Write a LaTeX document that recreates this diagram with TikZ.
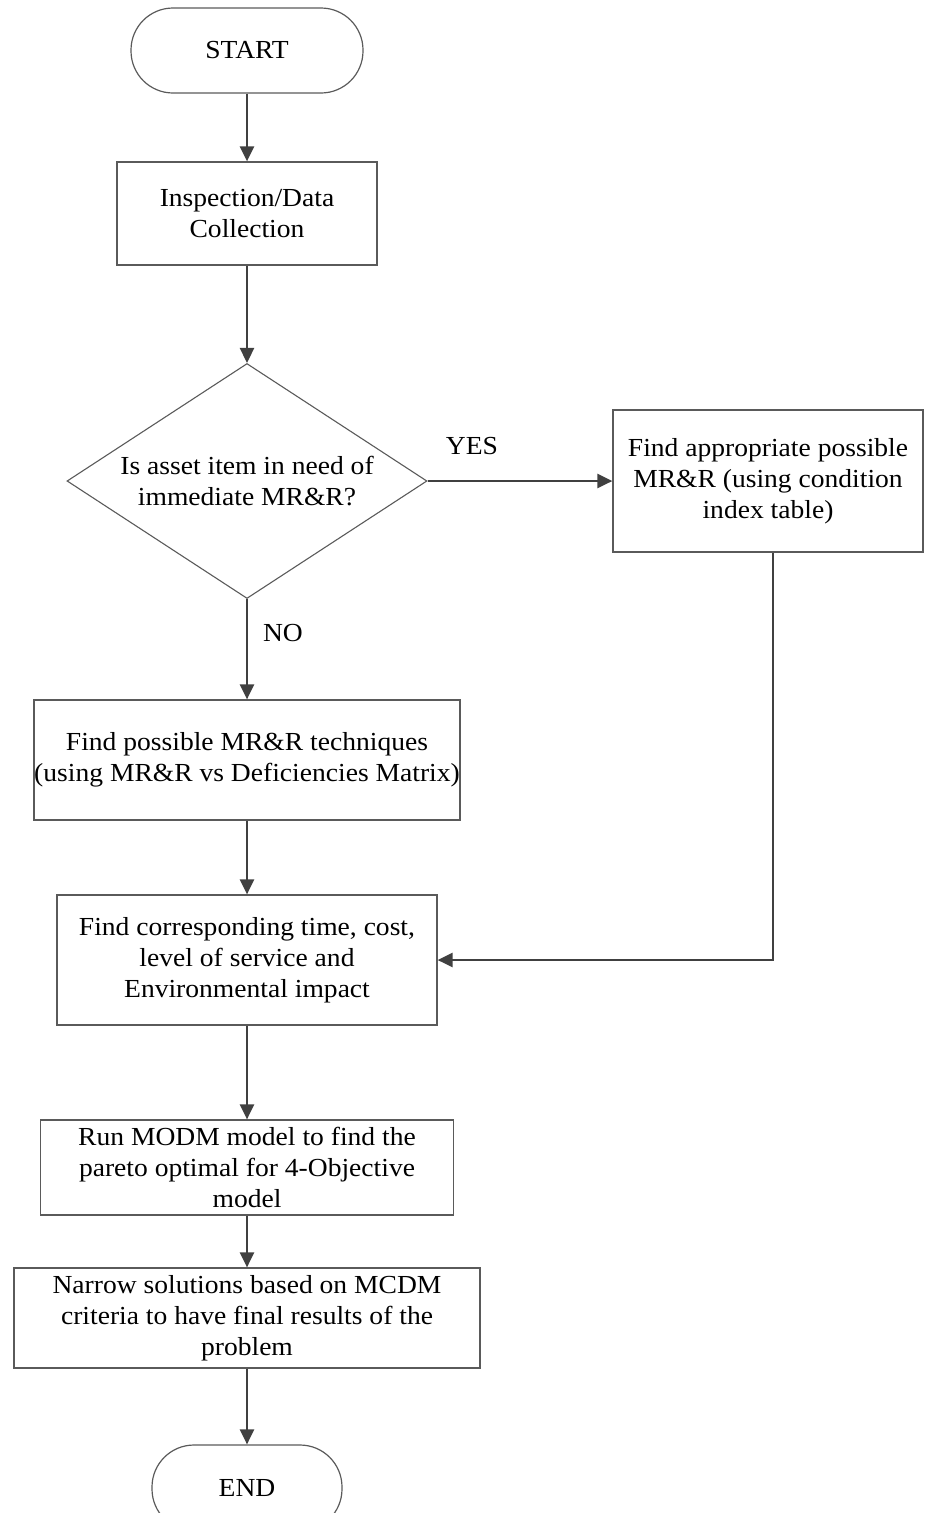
\documentclass[tikz,border=0pt]{standalone}
\usepackage{fontspec}
\setmainfont{Liberation Serif}[FakeStretch=1.06]
\usetikzlibrary{arrows.meta,shapes.geometric}

\definecolor{framegray}{HTML}{5A5A5A}
\definecolor{flowgray}{HTML}{404040}

\begin{document}
\begin{tikzpicture}[x=1pt,y=-1pt,
  txt/.style={font=\fontsize{26}{31}\selectfont, align=center, text=black},
  stepbox/.style={txt, draw=framegray, line width=1.2pt, rectangle, inner sep=0pt},
  terminal/.style={stepbox, rounded corners=42pt},
  decision/.style={draw=framegray, line width=1.1pt, diamond, inner sep=0pt},
  flow/.style={draw=flowgray, line width=2.6pt, -{Triangle[length=15pt,width=14pt]}}
]
\useasboundingbox (0,0) rectangle (924,1513);
\clip (0,0) rectangle (924,1513);

% process steps
\node[terminal, minimum width=232pt, minimum height=85pt] (start) at (247,50.5) {START};
\node[stepbox, minimum width=260pt, minimum height=103pt] (insp) at (247,213.5) {Inspection/Data\\Collection};
\node[decision, minimum width=360pt, minimum height=235pt] (dec) at (247,481) {};
\node[txt] (dectext) at (247,481) {Is asset item in need of\\immediate MR\&R?};
\node[stepbox, minimum width=310pt, minimum height=142pt] (right) at (768,481) {Find appropriate possible\\MR\&R (using condition\\index table)};
\node[stepbox, minimum width=426pt, minimum height=120pt] (poss) at (247,760) {Find possible MR\&R techniques\\(using MR\&R vs Deficiencies Matrix)};
\node[stepbox, minimum width=380pt, minimum height=130pt] (corr) at (247,960) {Find corresponding time, cost,\\level of service and\\Environmental impact};
\node[stepbox, minimum width=413pt, minimum height=95pt] (run) at (247,1167.5) {Run MODM model to find the\\pareto optimal for 4-Objective\\model};
\node[stepbox, minimum width=466pt, minimum height=100pt] (narrow) at (247,1318) {Narrow solutions based on MCDM\\criteria to have final results of the\\problem};
\node[terminal, minimum width=190pt, minimum height=86pt] (end) at (247,1488) {END};

% branch labels
\node[txt] (yes) at (472,446) {YES};
\node[txt] (no) at (283,633) {NO};

% connectors
\draw[flow] (start) -- (insp);
\draw[flow] (insp) -- (dec.north);
\draw[flow] (dec.east) -- (right.west);
\draw[flow] (dec.south) -- (poss);
\draw[flow] (poss) -- (corr);
\draw[flow] (right.south -| 773,0) |- (corr.east);
\draw[flow] (corr) -- (run);
\draw[flow] (run) -- (narrow);
\draw[flow] (narrow) -- (end);
\end{tikzpicture}
\end{document}
